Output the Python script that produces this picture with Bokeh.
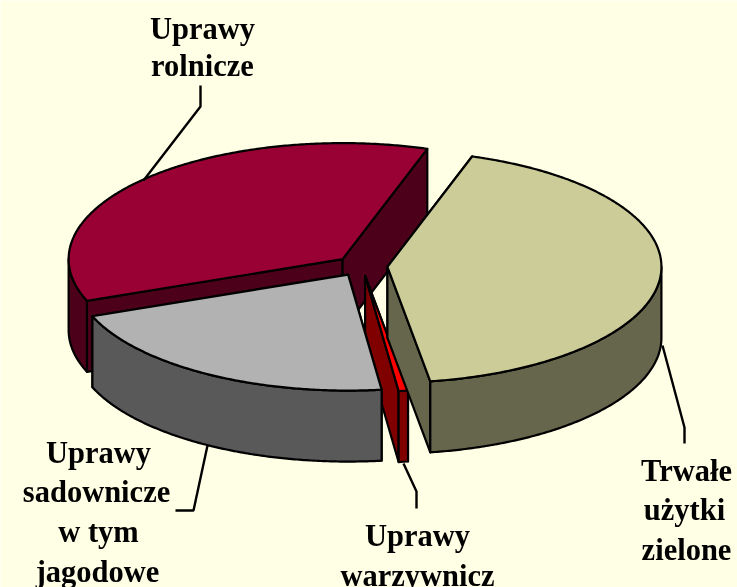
import numpy as np
from bokeh.embed import file_html
from bokeh.models import Range1d
from bokeh.plotting import figure
from bokeh.resources import INLINE

# Data: shares of land use, percent
categories = ["Trwałe użytki zielone", "Uprawy warzywnicz", "Uprawy sadownicze w tym jagodowe", "Uprawy rolnicze"]
shares = [42.5, 0.55, 21.1, 35.85]

# Styles
top_colors = ["#CCCC99", "#FF0000", "#B2B2B2", "#990033"]
side_colors = ["#66664D", "#800000", "#595959", "#4D001A"]
background = "#FFFFE5"
start_angle = 18.0
cx, cy = 361.0, 265.5
rx, ry = 274.0, 116.0
explode_x, explode_y = 26.0, 10.0
depth = 71.0

# Label text lines and their layout
label_lines = ["Uprawy", "rolnicze", "Trwałe", "użytki", "zielone",
               "Uprawy", "sadownicze", "w tym", "jagodowe", "Uprawy", "warzywnicz"]
label_x = [202, 202, 686, 684, 686, 98, 96, 98, 97, 417, 417]
label_y = [28, 65, 470, 509, 549, 452, 491, 531, 571, 535, 575]

# Leader lines layout
leaders = [
    ([143, 200, 200], [180, 106, 85]),
    ([662, 684, 684], [345, 427, 443]),
    ([207, 193, 175], [445, 510, 510]),
    ([403, 416, 416], [463, 491, 508]),
]

p = figure(width=737, height=587, output_backend="svg", toolbar_location=None,
           x_range=Range1d(0, 737), y_range=Range1d(587, 0),
           background_fill_color=background, border_fill_color=background,
           min_border=0, outline_line_color=None,
           styles={"position": "fixed", "left": "0", "top": "0"})
p.axis.visible = False
p.grid.visible = False

def pt(theta, ax, ay):
    t = np.radians(theta)
    return ax + rx * np.sin(t), ay - ry * np.cos(t)

def draw(xs, ys, color):
    p.patch(xs, ys, fill_color=color, line_color="black", line_width=2.2, line_join="round")

edges = np.concatenate([[0], np.cumsum(shares)]) / sum(shares) * 360 + start_angle
slices = []
for i in range(len(shares)):
    a0, a1 = edges[i], edges[i + 1]
    mid = np.radians((a0 + a1) / 2)
    ax = cx + explode_x * np.sin(mid)
    ay = cy - explode_y * np.cos(mid)
    slices.append((i, a0, a1, ax, ay))

# back to front: rolnicze, warzywnicze, sadownicze, trwale
for i, a0, a1, ax, ay in [slices[3], slices[1], slices[2], slices[0]]:
    # cut faces that look toward the viewer
    for a in (a0, a1):
        ex, ey = pt(a, ax, ay)
        draw([ax, ex, ex, ax], [ay, ey, ey + depth, ay + depth], side_colors[i])
    # outer wall, front half only
    lo, hi = max(a0, 90.0), min(a1, 270.0)
    if hi > lo:
        th = np.linspace(lo, hi, max(int(hi - lo) * 2, 3))
        ox, oy = pt(th, ax, ay)
        draw(np.concatenate([ox, ox[::-1]]), np.concatenate([oy, oy[::-1] + depth]), side_colors[i])
    # top face
    th = np.linspace(a0, a1, max(int(a1 - a0) * 2, 3))
    tx, ty = pt(th, ax, ay)
    draw(np.concatenate([[ax], tx]), np.concatenate([[ay], ty]), top_colors[i])

for xs, ys in leaders:
    p.line(xs, ys, line_color="black", line_width=2.4)

p.text(label_x, label_y, text=label_lines, text_font={"value": "Liberation Serif"},
       text_font_style="bold", text_font_size="30.5px", text_color="black",
       text_align="center", text_baseline="alphabetic")

open("out.html", "w").write(file_html(p, INLINE))
